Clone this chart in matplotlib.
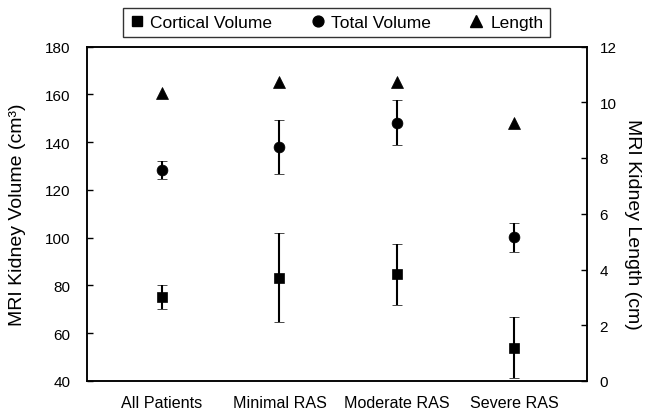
import matplotlib
matplotlib.use("Agg")
import matplotlib.pyplot as plt
from matplotlib.lines import Line2D
from matplotlib import font_manager

categories = ["All Patients", "Minimal RAS", "Moderate RAS", "Severe RAS"]
cortical = [75.0, 83.3, 84.7, 54.0]
cortical_err = [5.0, 18.8, 12.7, 12.8]
total = [128.3, 137.9, 148.1, 100.1]
total_err = [3.6, 11.3, 9.3, 6.1]
length = [10.34, 10.71, 10.71, 9.27]

vol_ticks = [40, 60, 80, 100, 120, 140, 160, 180]
len_ticks = [0, 2, 4, 6, 8, 10, 12]

names = {f.name for f in font_manager.fontManager.ttflist}
has_narrow = "Liberation Sans Narrow" in names
if has_narrow:
    small_font = ["Liberation Sans Narrow", "Liberation Sans", "DejaVu Sans"]
    fs_tick, fs_cat, fs_leg = 12.5, 13.5, 14
else:
    small_font = ["Liberation Sans", "DejaVu Sans"]
    fs_tick, fs_cat, fs_leg = 11, 11.6, 12.5
label_font = ["Liberation Sans", "DejaVu Sans"]

W, H = 648, 414
fig = plt.figure(figsize=(W / 100, H / 100), dpi=100)
ax = fig.add_axes([87 / W, 1 - 382 / H, 500 / W, 334.5 / H])
ax2 = ax.twinx()

x = list(range(len(categories)))
ax.errorbar(x, cortical, yerr=cortical_err, fmt="s", color="black", ms=7.7,
            mew=0.5, capsize=3.4, elinewidth=1.5, capthick=1.5)
ax.errorbar(x, total, yerr=total_err, fmt="o", color="black", ms=7.8,
            mew=0.5, capsize=3.4, elinewidth=1.5, capthick=1.5)
ax2.plot(x, length, "^", color="black", ms=8.8, mew=0.5)

ax.set_xlim(-0.64, 3.62)
ax.set_ylim(40, 180)
ax2.set_ylim(0, 12)
ax.set_xticks(x)
ax.set_xticklabels(categories, fontsize=fs_cat, family=small_font)
ax.set_yticks(vol_ticks)
ax.set_yticklabels([str(v) for v in vol_ticks], fontsize=fs_tick, family=small_font)
ax2.set_yticks(len_ticks)
ax2.set_yticklabels([str(v) for v in len_ticks], fontsize=fs_tick, family=small_font)

ax.tick_params(axis="x", length=0, pad=10)
ax.tick_params(axis="y", direction="in", length=4, width=1, pad=12)
ax2.tick_params(axis="y", direction="in", length=4, width=1, pad=9)

for a in (ax, ax2):
    for s in a.spines.values():
        s.set_linewidth(1.1)
        s.set_color("black")

fig.text(18 / W, 1 - 215 / H, "MRI Kidney Volume (cm³)", rotation=90,
         ha="center", va="center", fontsize=14, family=label_font)
fig.text(632 / W, 1 - 224 / H, "MRI Kidney Length (cm)", rotation=-90,
         ha="center", va="center", fontsize=14, family=label_font)

handles = [
    Line2D([], [], marker="s", ls="none", color="black", ms=7.7),
    Line2D([], [], marker="o", ls="none", color="black", ms=7.8),
    Line2D([], [], marker="^", ls="none", color="black", ms=8.8),
]
leg = fig.legend(handles, ["Cortical Volume", "Total Volume", "Length"],
                 loc="center", bbox_to_anchor=(336.5 / W, 1 - 23.5 / H), ncol=3,
                 frameon=True, fancybox=False, edgecolor="black",
                 prop={"family": small_font, "size": fs_leg},
                 handlelength=0.8, handletextpad=0.4, columnspacing=2.2,
                 borderpad=0.4, borderaxespad=0)
leg.get_frame().set_linewidth(1.0)

fig.savefig("out.png", dpi=100)
